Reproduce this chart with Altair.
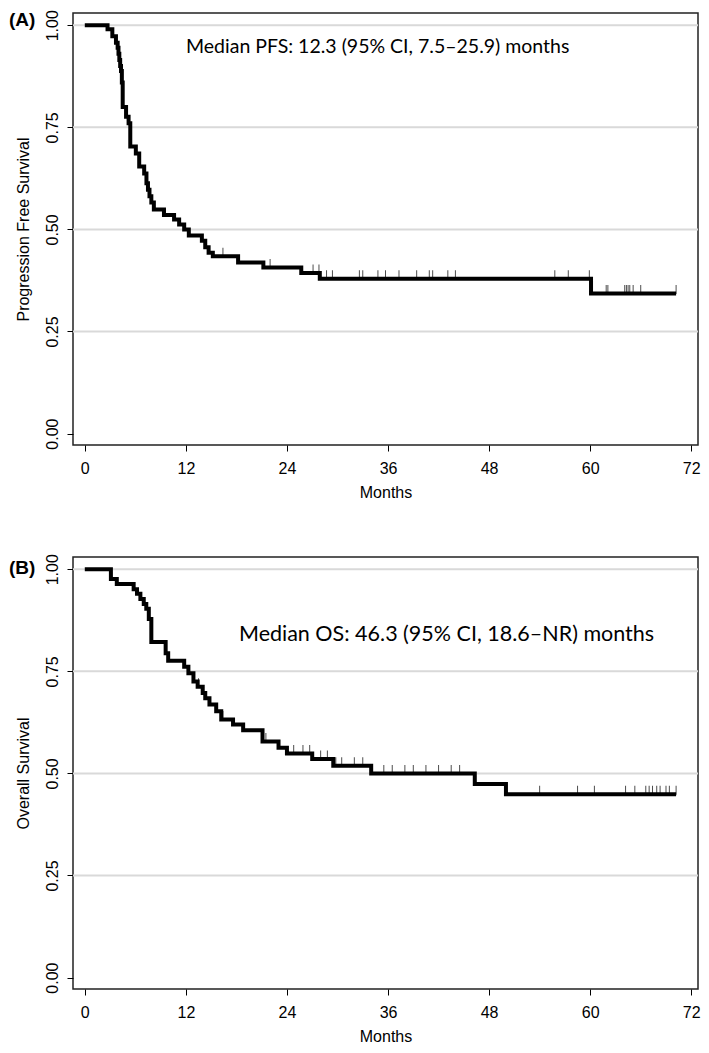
import altair as alt
import pandas as pd

# ---------------- data ----------------
X_TICKS = [0, 12, 24, 36, 48, 60, 72]
Y_TICKS = [0.0, 0.25, 0.5, 0.75, 1.0]
GRID_Y = [0.25, 0.5, 0.75, 1.0]

# Progression-free survival: step times (months) and survival after each step
pfs_time = [0, 2.7, 3.27, 3.7, 3.9, 4.0, 4.1, 4.2, 4.3, 4.4, 4.5, 4.9, 5.2, 5.4,
            6.06, 6.46, 7.05, 7.32, 7.5, 7.68, 7.9, 8.2, 9.4, 10.6, 11.2, 11.8,
            12.35, 13.9, 14.3, 14.7, 15.2, 18.2, 21.2, 25.7, 27.9, 60.1]
pfs_surv = [1.0, 0.99, 0.973, 0.957, 0.945, 0.93, 0.915, 0.90, 0.888, 0.86, 0.80,
            0.776, 0.76, 0.703, 0.686, 0.654, 0.637, 0.613, 0.597, 0.581, 0.566,
            0.549, 0.535, 0.524, 0.512, 0.50, 0.485, 0.472, 0.456, 0.443, 0.434,
            0.419, 0.407, 0.393, 0.379, 0.343]
pfs_end = 70.2
pfs_censor = [16.4, 22.0, 27.1, 27.8, 28.7, 29.4, 32.6, 33.0, 34.8, 35.7, 37.3,
              39.4, 40.9, 41.3, 43.1, 44.0, 55.8, 57.4, 59.9, 61.9, 62.1, 64.1,
              64.3, 64.5, 64.7, 65.1, 66.0, 70.2]

# Overall survival
os_time = [0, 3.1, 3.8, 5.8, 6.2, 6.6, 7.0, 7.3, 7.6, 7.9, 9.6, 9.9, 11.8, 12.3,
           12.9, 13.4, 14.0, 14.3, 14.8, 15.6, 16.2, 17.6, 18.8, 21.1, 23.0, 24.0,
           27.0, 29.5, 34.0, 46.3, 50.0]
os_surv = [1.0, 0.976, 0.964, 0.951, 0.940, 0.927, 0.915, 0.903, 0.878, 0.822,
           0.794, 0.776, 0.761, 0.745, 0.725, 0.712, 0.697, 0.684, 0.669, 0.652,
           0.632, 0.620, 0.606, 0.578, 0.563, 0.549, 0.535, 0.519, 0.500, 0.474,
           0.449]
os_end = 70.2
os_censor = [13.5, 16.4, 21.5, 24.8, 25.9, 26.7, 28.0, 28.8, 29.8, 30.5, 32.0,
             33.0, 35.5, 36.5, 38.0, 39.0, 40.5, 42.0, 43.5, 44.5, 54.0, 58.5,
             60.5, 64.2, 65.3, 66.6, 67.0, 67.4, 67.9, 68.3, 69.0, 69.4, 70.2]

PFS_NOTE = "Median PFS: 12.3 (95% CI, 7.5\u201325.9) months"
OS_NOTE = "Median OS: 46.3 (95% CI, 18.6\u2013NR) months"

AXIS_FONT = "Arial, Liberation Sans, sans-serif"
NOTE_FONT = "Lato"


def step_df(times, surv, end):
    return pd.DataFrame({"t": list(times) + [end], "s": list(surv) + [surv[-1]]})


def censor_df(ct, times, surv):
    vals = []
    for c in ct:
        idx = max(i for i, tt in enumerate(times) if tt <= c)
        vals.append(surv[idx])
    return pd.DataFrame({"t": ct, "s": vals})


def panel(times, surv, end, cens, ytitle, label, label_y, note, note_x, note_y,
          note_size):
    xs = alt.Scale(domain=[-1.4, 72.8], nice=False, zero=False)
    ys = alt.Scale(domain=[-0.028, 1.03], nice=False, zero=False)
    xax = alt.Axis(values=X_TICKS, title="Months", grid=False, domain=False,
                   tickColor="black", tickSize=6, labelFont=AXIS_FONT,
                   labelFontSize=16, labelColor="black", labelPadding=9,
                   titleFont=AXIS_FONT, titleFontSize=16, titleFontWeight="normal",
                   titleColor="black", titlePadding=8, labelFlush=False)
    yax = alt.Axis(values=Y_TICKS, format=".2f", title=ytitle, grid=False,
                   domain=False, tickColor="black", tickSize=6, labelAngle=-90,
                   labelFont=AXIS_FONT, labelFontSize=16, labelColor="black",
                   labelPadding=7, titleFont=AXIS_FONT, titleFontSize=16,
                   titleFontWeight="normal", titleColor="black", titlePadding=13,
                   labelFlush=False)

    grid = alt.Chart(pd.DataFrame({"g": GRID_Y})).mark_rule(
        color="#d9d9d9", strokeWidth=2
    ).encode(y=alt.Y("g:Q", scale=ys, axis=yax))

    line = alt.Chart(step_df(times, surv, end)).mark_line(
        interpolate="step-after", color="black", strokeWidth=4
    ).encode(x=alt.X("t:Q", scale=xs, axis=xax), y=alt.Y("s:Q", scale=ys, axis=yax))

    ticks = alt.Chart(censor_df(cens, times, surv)).mark_tick(
        orient="vertical", color="black", thickness=1, size=9, yOffset=-4
    ).encode(x=alt.X("t:Q", scale=xs, axis=xax), y=alt.Y("s:Q", scale=ys, axis=yax))

    lab = alt.Chart(pd.DataFrame({"lab": [label]})).mark_text(
        align="left", baseline="middle", font=AXIS_FONT, fontSize=19,
        fontWeight="bold", color="black"
    ).encode(x=alt.value(-64), y=alt.value(label_y), text="lab:N")

    txt = alt.Chart(pd.DataFrame({"note": [note]})).mark_text(
        align="left", baseline="middle", font=NOTE_FONT, fontSize=note_size,
        color="black"
    ).encode(x=alt.value(note_x), y=alt.value(note_y), text="note:N")

    return alt.layer(grid, line, ticks, lab, txt).properties(width=625, height=432)


top = panel(pfs_time, pfs_surv, pfs_end, pfs_censor, "Progression Free Survival",
            "(A)", 7, PFS_NOTE, 113, 34, 19.5)
bottom = panel(os_time, os_surv, os_end, os_censor, "Overall Survival",
               "(B)", 11, OS_NOTE, 166, 78, 21.5)

chart = alt.vconcat(top, bottom, spacing=51).properties(
    padding={"left": 0, "top": 0, "right": 0, "bottom": 0}
).configure_view(stroke="#222222", strokeWidth=1.5)

chart.save("out.html", embed_options={"renderer": "svg", "actions": False})
